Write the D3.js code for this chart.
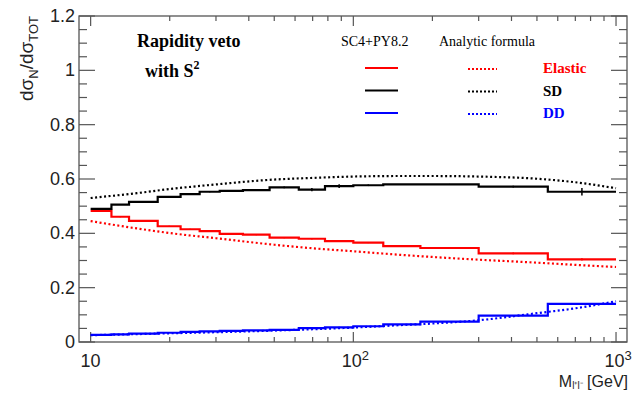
<!DOCTYPE html>
<html>
<head>
<meta charset="utf-8">
<script src="https://cdn.jsdelivr.net/npm/d3@7"></script>
<style>
  body { margin: 0; background: #fff; }
  svg { display: block; }
</style>
</head>
<body>
<div id="chart"></div>
<script>
// bin edges of the generator histograms (GeV)
const binEdges = [10, 12, 14, 18, 22, 26, 31, 38, 48, 62, 78, 100, 130, 180, 300, 550, 1000];

// SC4+PY8.2 histograms, one value per bin
const elasticMC = [0.483, 0.461, 0.446, 0.426, 0.415, 0.408, 0.398, 0.395, 0.384, 0.380, 0.371, 0.366, 0.353, 0.346, 0.326, 0.304];
const sdMC      = [0.490, 0.506, 0.516, 0.534, 0.544, 0.553, 0.556, 0.559, 0.569, 0.561, 0.574, 0.577, 0.580, 0.580, 0.572, 0.553];
const ddMC      = [0.026, 0.028, 0.031, 0.034, 0.037, 0.039, 0.041, 0.043, 0.045, 0.051, 0.054, 0.058, 0.065, 0.075, 0.097, 0.140];
const elasticErr = [0.002, 0.002, 0.002, 0.002, 0.002, 0.002, 0.002, 0.002, 0.002, 0.003, 0.003, 0.002, 0.002, 0.002, 0.003, 0.004];
const sdErr      = [0.002, 0.002, 0.002, 0.002, 0.002, 0.002, 0.002, 0.002, 0.003, 0.006, 0.007, 0.003, 0.002, 0.002, 0.003, 0.014];
const ddErr      = [0.001, 0.001, 0.001, 0.001, 0.001, 0.001, 0.001, 0.001, 0.001, 0.002, 0.002, 0.001, 0.001, 0.001, 0.002, 0.003];

// analytic formula curves
const massPoints  = [10, 15, 20, 30, 50, 70, 100, 150, 200, 300, 500, 700, 1000];
const elasticAna  = [0.445, 0.418, 0.401, 0.382, 0.358, 0.345, 0.334, 0.321, 0.313, 0.303, 0.292, 0.284, 0.276];
const sdAna       = [0.530, 0.548, 0.563, 0.580, 0.598, 0.604, 0.609, 0.611, 0.611, 0.609, 0.601, 0.588, 0.566];
const ddAna       = [0.025, 0.029, 0.032, 0.036, 0.042, 0.047, 0.053, 0.062, 0.068, 0.080, 0.106, 0.124, 0.150];

const yTicks = [0, 0.2, 0.4, 0.6, 0.8, 1, 1.2];
const seriesNames = ["Elastic", "SD", "DD"];
const seriesColors = ["#ff0000", "#000000", "#0000ff"];

const width = 633, height = 393;
const frame = {left: 79, right: 627, top: 16, bottom: 342};

const svg = d3.select("#chart").append("svg")
  .attr("width", width)
  .attr("height", height)
  .attr("viewBox", [0, 0, width, height]);

const x = d3.scaleLog().domain([9.03, 1101]).range([frame.left, frame.right]);
const y = d3.scaleLinear().domain([0, 1.2]).range([frame.bottom, frame.top]);

const axisColor = "#555";

// frame
svg.append("rect")
  .attr("x", frame.left).attr("y", frame.top)
  .attr("width", frame.right - frame.left).attr("height", frame.bottom - frame.top)
  .attr("fill", "none").attr("stroke", axisColor).attr("stroke-width", 1.3);

// y ticks, both sides
const yMinor = d3.range(0, 1.2001, 0.05);
const tickG = svg.append("g").attr("stroke", axisColor).attr("stroke-width", 1.2);
yMinor.forEach(v => {
  const major = Math.abs(v * 5 - Math.round(v * 5)) < 1e-6;
  const len = major ? 16 : 8;
  tickG.append("line").attr("x1", frame.left).attr("x2", frame.left + len)
    .attr("y1", y(v)).attr("y2", y(v));
  tickG.append("line").attr("x1", frame.right).attr("x2", frame.right - len)
    .attr("y1", y(v)).attr("y2", y(v));
});

// x ticks, bottom and top
const xMinor = [];
[10, 100].forEach(d => { for (let k = 1; k <= 9; k++) xMinor.push(d * k); });
xMinor.push(1000);
xMinor.forEach(v => {
  const major = (v === 10 || v === 100 || v === 1000);
  const len = major ? 10 : 5;
  tickG.append("line").attr("x1", x(v)).attr("x2", x(v))
    .attr("y1", frame.bottom).attr("y2", frame.bottom - len);
  tickG.append("line").attr("x1", x(v)).attr("x2", x(v))
    .attr("y1", frame.top).attr("y2", frame.top + len);
});

// tick labels
const sans = "'Liberation Sans', Arial, sans-serif";
svg.append("g")
  .selectAll("text")
  .data(yTicks)
  .join("text")
  .attr("x", frame.left - 4)
  .attr("y", d => y(d) + 6)
  .attr("text-anchor", "end")
  .attr("font-family", sans).attr("font-size", 18)
  .attr("fill", "#222")
  .text(d => d === 0 ? "0" : (d === 1 ? "1" : d.toFixed(1)));

const xLabels = [{v: 10, base: "10", exp: ""}, {v: 100, base: "10", exp: "2"}, {v: 1000, base: "10", exp: "3"}];
xLabels.forEach(l => {
  const t = svg.append("text")
    .attr("x", x(l.v) + (l.exp ? 2 : 0))
    .attr("y", 367)
    .attr("text-anchor", "middle")
    .attr("font-family", sans).attr("font-size", 18)
    .attr("fill", "#222");
  t.append("tspan").text(l.base);
  if (l.exp) t.append("tspan").attr("dy", -7).attr("font-size", 13).text(l.exp);
});

// axis titles
const xt = svg.append("text")
  .attr("x", 628).attr("y", 387)
  .attr("text-anchor", "end")
  .attr("font-family", sans).attr("font-size", 16).attr("fill", "#222");
xt.append("tspan").text("M");
xt.append("tspan").attr("dy", 2).attr("font-size", 10).text("l\u207Al\u207B");
xt.append("tspan").attr("dy", -2).text(" [GeV]");

const yt = svg.append("text")
  .attr("transform", "translate(33,16) rotate(-90)")
  .attr("text-anchor", "end")
  .attr("font-family", sans).attr("font-size", 19).attr("fill", "#222");
yt.append("tspan").text("d\u03C3");
yt.append("tspan").attr("dy", 5).attr("font-size", 13).text("N");
yt.append("tspan").attr("dy", -5).text("/d\u03C3");
yt.append("tspan").attr("dy", 5).attr("font-size", 13).text("TOT");

// analytic curves (dotted)
const curve = d3.line()
  .x(d => x(d[0]))
  .y(d => y(d[1]))
  .curve(d3.curveMonotoneX);

[elasticAna, sdAna, ddAna].forEach((vals, i) => {
  svg.append("path")
    .datum(massPoints.map((m, j) => [m, vals[j]]))
    .attr("d", curve)
    .attr("fill", "none")
    .attr("stroke", seriesColors[i])
    .attr("stroke-width", 2.2)
    .attr("stroke-dasharray", "2,2.5");
});

// MC histograms (steps)
const step = d3.line()
  .x(d => x(d[0]))
  .y(d => y(d[1]));

[elasticMC, sdMC, ddMC].forEach((vals, i) => {
  const pts = [];
  vals.forEach((v, j) => {
    pts.push([binEdges[j], v]);
    pts.push([binEdges[j + 1], v]);
  });
  svg.append("path")
    .datum(pts)
    .attr("d", step)
    .attr("fill", "none")
    .attr("stroke", seriesColors[i])
    .attr("stroke-width", 2.2);
});

// error bars at bin centres
[[elasticMC, elasticErr], [sdMC, sdErr], [ddMC, ddErr]].forEach(([vals, errs], i) => {
  svg.append("g")
    .selectAll("line")
    .data(vals)
    .join("line")
    .attr("x1", (d, j) => x(Math.sqrt(binEdges[j] * binEdges[j + 1])))
    .attr("x2", (d, j) => x(Math.sqrt(binEdges[j] * binEdges[j + 1])))
    .attr("y1", (d, j) => y(d - errs[j]))
    .attr("y2", (d, j) => y(d + errs[j]))
    .attr("stroke", seriesColors[i])
    .attr("stroke-width", 1.5);
});

// text and legend
const serif = "'Liberation Serif', 'Times New Roman', serif";
svg.append("text")
  .attr("x", 137).attr("y", 47)
  .attr("font-family", serif).attr("font-size", 18).attr("font-weight", "bold")
  .text("Rapidity veto");
const ws = svg.append("text")
  .attr("x", 145).attr("y", 77)
  .attr("font-family", serif).attr("font-size", 18).attr("font-weight", "bold");
ws.append("tspan").text("with S");
ws.append("tspan").attr("dy", -8).attr("font-size", 12).text("2");

svg.append("text")
  .attr("x", 341).attr("y", 46)
  .attr("font-family", serif).attr("font-size", 14)
  .text("SC4+PY8.2");
svg.append("text")
  .attr("x", 439).attr("y", 46)
  .attr("font-family", serif).attr("font-size", 14)
  .text("Analytic formula");

const legendY = [68, 90.5, 113];
seriesNames.forEach((name, i) => {
  svg.append("line")
    .attr("x1", 365).attr("x2", 398)
    .attr("y1", legendY[i]).attr("y2", legendY[i])
    .attr("stroke", seriesColors[i]).attr("stroke-width", 2.2);
  svg.append("line")
    .attr("x1", 468).attr("x2", 497)
    .attr("y1", legendY[i] + 1).attr("y2", legendY[i] + 1)
    .attr("stroke", seriesColors[i]).attr("stroke-width", 2)
    .attr("stroke-dasharray", "2,2");
  svg.append("text")
    .attr("x", 543).attr("y", legendY[i] + 5)
    .attr("font-family", serif).attr("font-size", 15).attr("font-weight", "bold")
    .attr("fill", seriesColors[i])
    .text(name);
});
</script>
</body>
</html>
